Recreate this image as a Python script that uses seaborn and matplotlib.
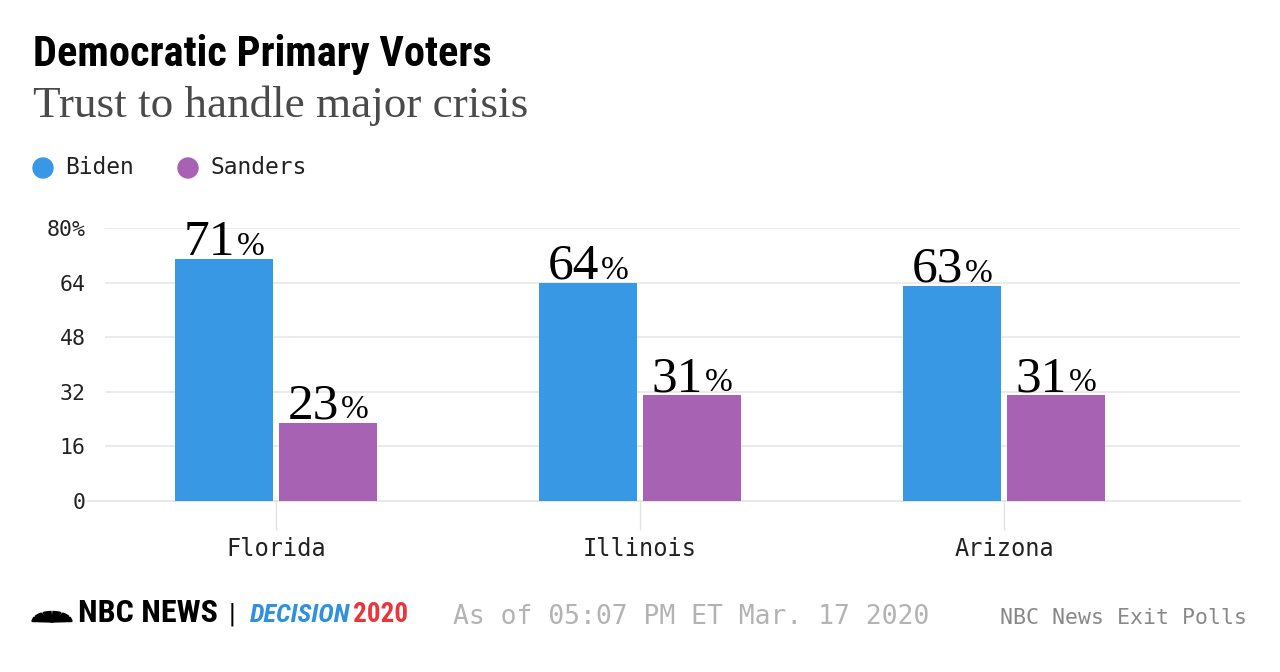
import matplotlib
matplotlib.use("Agg")
import matplotlib.pyplot as plt
from matplotlib.offsetbox import TextArea, HPacker, AnnotationBbox
from matplotlib.patches import Ellipse, Wedge
import seaborn as sns
import pandas as pd

# data
states = ["Florida", "Illinois", "Arizona"]
biden = [71, 64, 63]
sanders = [23, 31, 31]
candidates = ["Biden", "Sanders"]
yticks = [0, 16, 32, 48, 64, 80]
ytick_labels = ["0", "16", "32", "48", "64", "80%"]

colors = {"Biden": "#3998e3", "Sanders": "#a862b4"}

df = pd.DataFrame({
    "state": states * 2,
    "candidate": ["Biden"] * 3 + ["Sanders"] * 3,
    "pct": biden + sanders,
})

sns.set_theme(style="white")
plt.rcParams["font.family"] = ["DejaVu Sans"]
mono = ["DejaVu Sans Mono"]
serif = ["Liberation Serif", "DejaVu Serif"]
narrow = ["Roboto Condensed", "Liberation Sans Narrow", "Roboto", "DejaVu Sans"]

W, H = 1280, 672
fig = plt.figure(figsize=(12.8, 6.72), dpi=100)
fig.patch.set_facecolor("white")
ax = fig.add_axes([105 / W, 171 / H, 1135 / W, 273 / H])

sns.barplot(data=df, x="state", y="pct", hue="candidate", palette=colors,
            width=0.57, gap=0.06, ax=ax, legend=False, saturation=1,
            edgecolor="white", linewidth=0)

ax.set_xlim(-0.47, 2.648)
ax.set_ylim(0, 80)
ax.set_yticks(yticks)
ax.set_yticklabels(ytick_labels, family=mono, fontsize=15.5, color="#222222")
ax.set_xticks(range(len(states)))
ax.set_xticklabels(states, family=mono, fontsize=17, color="#222222")
ax.tick_params(axis="y", length=0, pad=14)
ax.tick_params(axis="x", length=21, width=1, color="#e3e3e3", pad=5, bottom=True)
ax.set_xlabel("")
ax.set_ylabel("")
for s in ax.spines.values():
    s.set_visible(False)
for y in yticks[1:]:
    ax.axhline(y, color="#e8e8e8", lw=1.2, zorder=0)
ax.axhline(0, xmin=-0.016, xmax=1, color="#e3e3e3", lw=1.2, zorder=0, clip_on=False)

# value labels: big number, smaller percent sign
for cont in ax.containers:
    for bar in cont:
        h = bar.get_height()
        num = TextArea(f"{h:.0f}", textprops=dict(family=serif, fontsize=37, color="black"))
        pct = TextArea("%", textprops=dict(family=serif, fontsize=24, color="black"))
        box = HPacker(children=[num, pct], align="baseline", pad=0, sep=1)
        ab = AnnotationBbox(box, (bar.get_x() + bar.get_width() / 2, h),
                            xybox=(0, -5), xycoords="data", boxcoords="offset points",
                            box_alignment=(0.5, 0), frameon=False, pad=0,
                            annotation_clip=False)
        ax.add_artist(ab)

# titles
fig.text(33 / W, 1 - 66 / H, "Democratic Primary Voters", family=narrow,
         fontweight="bold", fontsize=30.5, color="black", va="baseline")
fig.text(33 / W, 1 - 117 / H, "Trust to handle major crisis", family=serif,
         fontsize=32.5, color="#4a4a4a", va="baseline")

# legend
for cx, name in [(43, "Biden"), (188, "Sanders")]:
    fig.patches.append(Ellipse((cx / W, 1 - 168 / H), 20 / W, 20 / H,
                               transform=fig.transFigure, color=colors[name]))
    fig.text((cx + 22) / W, 1 - 168 / H, name, family=mono, fontsize=16.5,
             color="#222222", va="center")

# footer
fy = 1 - 624 / H
for i in range(6):
    fig.patches.append(Wedge((52 / W, 1 - 622 / H), 20 / W, 180 - (i + 1) * 30 + 3,
                             180 - i * 30 - 3, transform=fig.transFigure, color="black"))
fig.text(78 / W, 1 - 622 / H, "NBC NEWS", family=narrow, fontweight="bold", fontsize=23,
         color="black", va="baseline")
fig.text(229 / W, 1 - 622 / H, "|", family=narrow, fontsize=20, color="black", va="baseline")
fig.text(250 / W, 1 - 622 / H, "DECISION", family=narrow, fontweight="bold", style="italic",
         fontsize=19, color="#2f8fe0", va="baseline")
fig.text(353 / W, 1 - 622 / H, "2020", family=narrow, fontweight="bold", fontsize=19.5,
         color="#e8363c", va="baseline")
fig.text(453 / W, fy, "As of 05:07 PM ET Mar. 17 2020", family=mono, fontsize=19,
         color="#b3b3b3", va="baseline")
fig.text(1247 / W, fy, "NBC News Exit Polls", family=mono, fontsize=15.5,
         color="#888888", va="baseline", ha="right")

fig.savefig("out.png", dpi=100, facecolor="white")
